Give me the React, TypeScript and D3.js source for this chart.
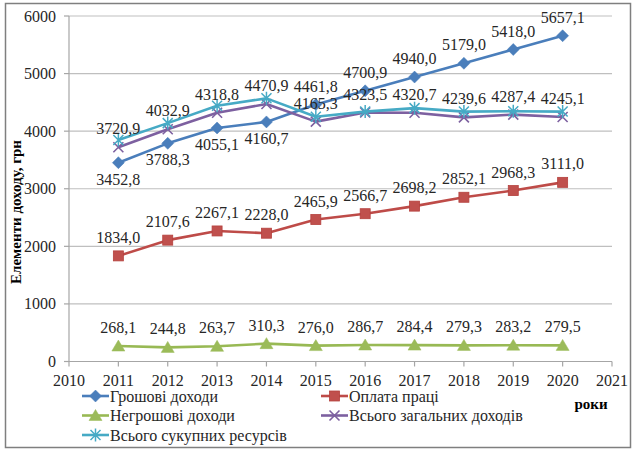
import React from "react";
import * as d3 from "d3";

const years = [2011, 2012, 2013, 2014, 2015, 2016, 2017, 2018, 2019, 2020];
const xTicks = [2010, 2011, 2012, 2013, 2014, 2015, 2016, 2017, 2018, 2019, 2020, 2021];
const yTicks = [0, 1000, 2000, 3000, 4000, 5000, 6000];

const moneyIncome = [3452.8, 3788.3, 4055.1, 4160.7, 4461.8, 4700.9, 4940.0, 5179.0, 5418.0, 5657.1];
const wages = [1834.0, 2107.6, 2267.1, 2228.0, 2465.9, 2566.7, 2698.2, 2852.1, 2968.3, 3111.0];
const nonMoneyIncome = [268.1, 244.8, 263.7, 310.3, 276.0, 286.7, 284.4, 279.3, 283.2, 279.5];
const totalIncome = [3720.9, 4032.9, 4318.8, 4470.9, 4165.3, 4323.5, 4320.7, 4239.6, 4287.4, 4245.1];
const totalResources = [3845, 4140, 4440, 4570, 4250, 4340, 4400, 4340, 4345, 4340];

const seriesNames = [
  "Грошові доходи",
  "Оплата праці",
  "Негрошові доходи",
  "Всього загальних доходів",
  "Всього сукупних ресурсів",
];

type Marker = "diamond" | "square" | "triangle" | "x" | "star";
const series = [
  { name: seriesNames[0], values: moneyIncome, color: "#4A7EBB", marker: "diamond" as Marker, labels: "mixed" },
  { name: seriesNames[1], values: wages, color: "#BE4B48", marker: "square" as Marker, labels: "above" },
  { name: seriesNames[2], values: nonMoneyIncome, color: "#98B954", marker: "triangle" as Marker, labels: "above" },
  { name: seriesNames[3], values: totalIncome, color: "#7D60A0", marker: "x" as Marker, labels: "above" },
  { name: seriesNames[4], values: totalResources, color: "#46AAC5", marker: "star" as Marker, labels: "none" },
];

const fmt = (v: number) => v.toFixed(1).replace(".", ",");

function MarkerShape({ type, color, x, y }: { type: Marker; color: string; x: number; y: number }) {
  switch (type) {
    case "diamond":
      return <path d="M0,-6L6,0L0,6L-6,0Z" transform={`translate(${x},${y})`} fill={color} stroke={color} strokeWidth={0.5} />;
    case "square":
      return <rect x={x - 5} y={y - 5} width={10} height={10} fill="#C0504D" stroke="#B5413E" strokeWidth={0.8} />;
    case "triangle":
      return <path d="M0,-6L6.5,5L-6.5,5Z" transform={`translate(${x},${y})`} fill="#9BBB59" stroke="#9BBB59" strokeWidth={0.5} />;
    case "x":
      return <path d="M-5,-5L5,5M-5,5L5,-5" transform={`translate(${x},${y})`} stroke={color} strokeWidth={1.6} fill="none" />;
    case "star":
      return <path d="M-5,-5L5,5M-5,5L5,-5M0,-6.5L0,6.5" transform={`translate(${x},${y})`} stroke={color} strokeWidth={1.5} fill="none" />;
  }
}

export default function App() {
  const W = 633, H = 450;
  const x = d3.scaleLinear().domain([2010, 2021]).range([69, 612]);
  const y = d3.scaleLinear().domain([0, 6000]).range([361.5, 16]);
  const line = d3.line<number>().x((_, i) => x(years[i])).y((d) => y(d));
  const font = "'Liberation Serif', 'Times New Roman', serif";

  const legendItems = [
    { s: series[0], lx: 82, ly: 396 },
    { s: series[1], lx: 321, ly: 396 },
    { s: series[2], lx: 82, ly: 415.5 },
    { s: series[3], lx: 321, ly: 415.5 },
    { s: series[4], lx: 82, ly: 435 },
  ];

  return (
    <svg width={W} height={H} style={{ position: "absolute", left: 0, top: 0 }} fontFamily={font}>
      <rect x={0} y={0} width={W} height={H} fill="#fff" />
      <rect x={5.5} y={3.5} width={625} height={444} fill="none" stroke="#7f7f7f" strokeWidth={1.5} />

      {/* grid */}
      {yTicks.map((t) => (
        <g key={t}>
          {t > 0 && <line x1={69} x2={612} y1={y(t)} y2={y(t)} stroke="#BFBFBF" strokeWidth={1.2} />}
          <line x1={64} x2={69} y1={y(t)} y2={y(t)} stroke="#A6A6A6" strokeWidth={1.2} />
          <text x={56} y={y(t) + 5.5} textAnchor="end" fontSize={16} fill="#262626">{t}</text>
        </g>
      ))}
      <line x1={69} x2={69} y1={16} y2={361.5} stroke="#A6A6A6" strokeWidth={1.2} />
      <line x1={69} x2={612} y1={361.5} y2={361.5} stroke="#A6A6A6" strokeWidth={1.2} />
      {xTicks.map((t) => (
        <g key={t}>
          <line x1={x(t)} x2={x(t)} y1={361.5} y2={366.5} stroke="#A6A6A6" strokeWidth={1.2} />
          <text x={x(t)} y={385.5} textAnchor="middle" fontSize={16} fill="#262626">{t}</text>
        </g>
      ))}

      {/* y title */}
      <text transform="translate(21,212) rotate(-90)" textAnchor="middle" fontSize={15} fontWeight="bold" fill="#000">
        Елементи доходу, грн
      </text>
      <text x={591} y={409} textAnchor="middle" fontSize={15} fontWeight="bold" fill="#000">роки</text>

      {/* series */}
      {series.map((s) => (
        <g key={s.name}>
          <path d={line(s.values) || ""} fill="none" stroke={s.color} strokeWidth={2.6} strokeLinejoin="round" />
          {s.values.map((v, i) => (
            <MarkerShape key={i} type={s.marker} color={s.color} x={x(years[i])} y={y(v)} />
          ))}
        </g>
      ))}

      {/* data labels */}
      {series.map((s) =>
        s.labels === "none"
          ? null
          : s.values.map((v, i) => {
              const below = s.labels === "mixed" && i < 4;
              const ly = below ? y(v) + 22 : y(v) - 13;
              return (
                <text key={s.name + i} x={x(years[i])} y={ly} textAnchor="middle" fontSize={16} fill="#262626">
                  {fmt(v)}
                </text>
              );
            })
      )}

      {/* legend */}
      {legendItems.map(({ s, lx, ly }) => (
        <g key={s.name}>
          <line x1={lx} x2={lx + 27} y1={ly} y2={ly} stroke={s.color} strokeWidth={2.6} />
          <MarkerShape type={s.marker} color={s.color} x={lx + 13.5} y={ly} />
          <text x={lx + 28} y={ly + 5.5} fontSize={16} fill="#262626">{s.name}</text>
        </g>
      ))}
    </svg>
  );
}
